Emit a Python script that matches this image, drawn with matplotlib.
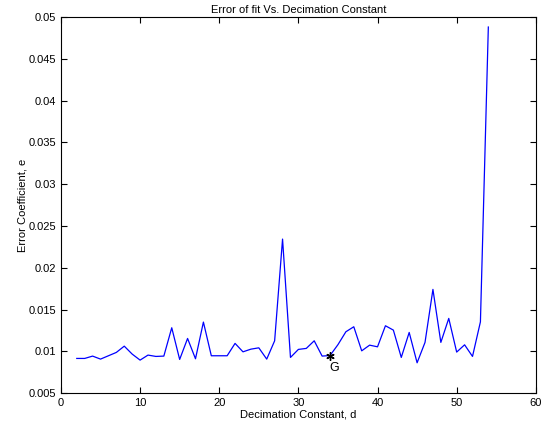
import matplotlib
matplotlib.use("Agg")
import matplotlib.pyplot as plt

plt.rcParams["font.family"] = ["Liberation Sans", "DejaVu Sans"]

# ── Data ───────────────────────────────────────────────────────
decimation = list(range(2, 55))
error_coef = [
    0.00915, 0.00915, 0.00943, 0.00907, 0.00947, 0.00987, 0.01062, 0.00967,
    0.00895, 0.00955, 0.00939, 0.00943, 0.01282, 0.00903, 0.01154, 0.00911,
    0.01350, 0.00947, 0.00947, 0.00947, 0.01095, 0.00994, 0.01026, 0.01042,
    0.00907, 0.01126, 0.02343, 0.00927, 0.01023, 0.01035, 0.01126, 0.00943,
    0.00950, 0.01080, 0.01234, 0.01294, 0.01006, 0.01074, 0.01054, 0.01306,
    0.01254, 0.00927, 0.01226, 0.00863, 0.01107, 0.01741, 0.01107, 0.01394,
    0.00991, 0.01078, 0.00939, 0.01353, 0.04880,
]
best_d = 34
best_e = 0.00950
best_label = "G"

# ── Figure ─────────────────────────────────────────────────────
fig = plt.figure(figsize=(5.49, 4.25), dpi=100)
ax = fig.add_axes([0.111, 0.075, 0.865, 0.885])

ax.plot(decimation, error_coef, color="#0000ff", linewidth=0.9)
ax.plot([best_d], [best_e], marker=(6, 2, 0), color="black", markersize=6,
        markeredgewidth=1.0, linestyle="none")
ax.text(best_d + 0.5, best_e - 0.0015, best_label, fontsize=9, ha="center", va="center")

ax.set_xlim(0, 60)
ax.set_ylim(0.005, 0.05)
ax.set_xticks(range(0, 61, 10))
ax.set_yticks([0.005 * i for i in range(1, 11)])
ax.set_yticklabels(["0.005", "0.01", "0.015", "0.02", "0.025", "0.03",
                    "0.035", "0.04", "0.045", "0.05"])
ax.tick_params(direction="in", top=True, right=True, labelsize=8, length=4)

ax.set_title("Error of fit Vs. Decimation Constant", fontsize=8, pad=3)
ax.set_xlabel("Decimation Constant, d", fontsize=8, labelpad=1)
ax.set_ylabel("Error Coefficient, e", fontsize=8, labelpad=1)

plt.savefig("out.png", dpi=100)
